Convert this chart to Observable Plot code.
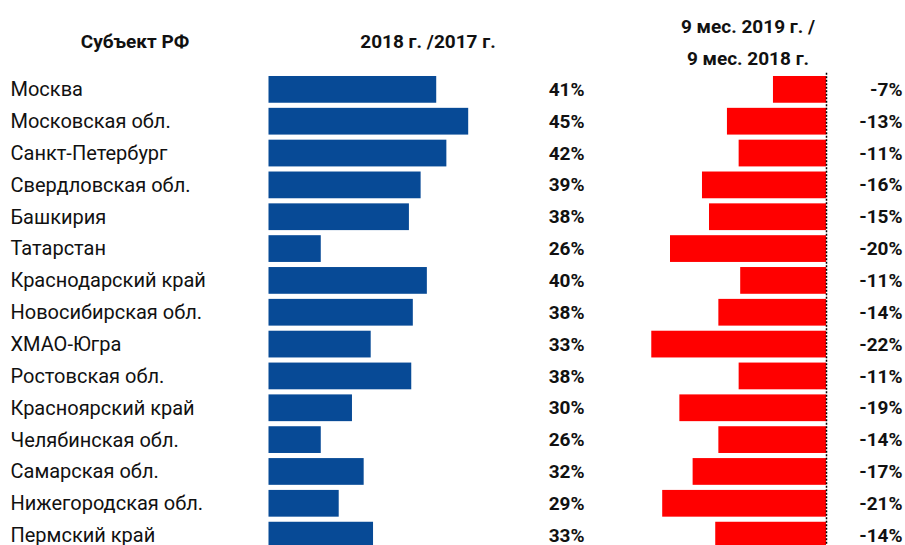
<!DOCTYPE html>
<html><head><meta charset="utf-8">
<script src="https://cdn.jsdelivr.net/npm/d3@7"></script>
<script src="https://cdn.jsdelivr.net/npm/@observablehq/plot@0.6"></script>
<style>
html,body{margin:0;padding:0;background:#fff;overflow:hidden}
#chart{position:relative;width:905px;height:545px;font-family:Roboto,sans-serif;overflow:hidden}
#chart svg{position:absolute;left:0;top:0}
.hdr{position:absolute;font-weight:700;font-size:19px;color:#111;text-align:center;white-space:nowrap;line-height:1}
</style></head><body>
<div id="chart">
  <div class="hdr" style="left:35px;width:200px;top:32px">Субъект РФ</div>
  <div class="hdr" style="left:328px;width:200px;top:32px">2018 г. /2017 г.</div>
  <div class="hdr" style="left:648px;width:200px;top:11px;line-height:31.7px">9 мес. 2019 г. /<br>9 мес. 2018 г.</div>
</div>
<script>
const regions = ["Москва","Московская обл.","Санкт-Петербург","Свердловская обл.","Башкирия","Татарстан","Краснодарский край","Новосибирская обл.","ХМАО-Югра","Ростовская обл.","Красноярский край","Челябинская обл.","Самарская обл.","Нижегородская обл.","Пермский край"];
const growth2018 = [41.1,45.2,42.4,39.1,37.6,26.3,39.9,38.1,32.7,37.9,30.3,26.3,31.8,28.6,33.0];
const growth9m2019 = [-6.8,-12.7,-11.2,-15.9,-15.0,-20.0,-11.0,-13.8,-22.4,-11.2,-18.8,-13.8,-17.1,-21.0,-14.2];
const blueBase = 19.6;
const BLUE = "#074A96", RED = "#FF0000";

const rows = regions.map((r, i) => ({region: r, blue: growth2018[i], red: growth9m2019[i]}));
const yScale = {domain: regions, range: [70.9, 553.6], padding: 0.16, round: false, axis: null};
const chart = document.getElementById("chart");

const plotA = Plot.plot({
  width: 905, height: 545,
  marginTop: 0, marginBottom: 0, marginLeft: 10, marginRight: 321,
  style: {background: "transparent", fontFamily: "Roboto, sans-serif", color: "#111"},
  x: {domain: [blueBase, 45.2], range: [268.5, 468.2], axis: null},
  y: yScale,
  marks: [
    Plot.barX(rows, {y: "region", x1: blueBase, x2: "blue", fill: BLUE}),
    Plot.text(rows, {y: "region", text: "region", frameAnchor: "left", textAnchor: "start", fontSize: 20, fill: "#111"}),
    Plot.text(rows, {y: "region", text: d => Math.round(d.blue) + "%", frameAnchor: "right", textAnchor: "end", fontSize: 19, fontWeight: 700, fill: "#111"})
  ]
});

const plotB = Plot.plot({
  width: 905, height: 545,
  marginTop: 72.7, marginBottom: 0, marginLeft: 0, marginRight: 3,
  style: {background: "transparent", fontFamily: "Roboto, sans-serif", color: "#111"},
  x: {domain: [-20, 0], range: [670, 826], axis: null},
  y: yScale,
  marks: [
    Plot.barX(rows, {y: "region", x1: 0, x2: "red", fill: RED}),
    Plot.ruleX([0], {stroke: "#000", strokeWidth: 1.5, strokeDasharray: "2,1.5"}),
    Plot.text(rows, {y: "region", text: d => Math.round(d.red) + "%", frameAnchor: "right", textAnchor: "end", fontSize: 19, fontWeight: 700, fill: "#111"})
  ]
});

chart.appendChild(plotA);
chart.appendChild(plotB);
</script>
</body></html>
